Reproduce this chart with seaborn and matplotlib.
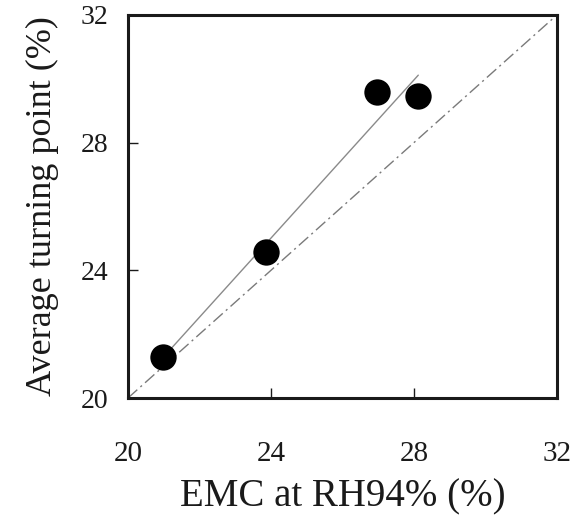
import matplotlib
matplotlib.use("Agg")
import matplotlib.pyplot as plt
import seaborn as sns
import numpy as np

# Equilibrium moisture content at RH 94% vs. average turning point
emc_rh94 = [20.99, 23.85, 26.96, 28.12]
turning_point = [21.28, 24.58, 29.57, 29.46]

axis_limits = [20, 32]
tick_values = [20, 24, 28, 32]

sns.set_style("ticks")
plt.rcParams["font.family"] = ["Liberation Serif", "DejaVu Serif"]

fig = plt.figure(figsize=(5.79, 5.22), dpi=100)
ax = fig.add_axes([0.221, 0.2375, 0.741, 0.734])

# 1:1 reference line
ax.plot(axis_limits, axis_limits, color="#7a7a7a", lw=1.0,
        linestyle=(0, (9, 3, 1.5, 3)), zorder=1)

# data points with least-squares fit over the data range
sns.regplot(x=emc_rh94, y=turning_point, ax=ax, ci=None, truncate=True,
            scatter_kws=dict(s=360, color="black", edgecolor="black",
                             linewidths=0, zorder=3, alpha=1),
            line_kws=dict(color="#8a8a8a", lw=1.0, zorder=2))

ax.set_xlim(axis_limits)
ax.set_ylim(axis_limits)
ax.set_xticks(tick_values)
ax.set_yticks(tick_values)
ax.set_xticklabels([str(v) for v in tick_values])
ax.set_yticklabels([str(v) for v in tick_values])

for side in ["left", "right", "top", "bottom"]:
    ax.spines[side].set_visible(True)
    ax.spines[side].set_linewidth(2.2)
    ax.spines[side].set_color("#1a1a1a")

ax.tick_params(axis="x", direction="in", length=7, width=1.0,
               labelsize=21, pad=31, colors="#1a1a1a")
ax.tick_params(axis="y", direction="in", length=7, width=1.0,
               labelsize=20, pad=14, colors="#1a1a1a")

ax.set_xlabel("EMC at RH94% (%)", fontsize=28, color="#1a1a1a")
ax.set_ylabel("Average turning point (%)", fontsize=26, color="#1a1a1a")
ax.xaxis.set_label_coords(0.5, -0.21)
ax.yaxis.set_label_coords(-0.16, 0.5)

fig.savefig("out.png", dpi=100, facecolor="white")
